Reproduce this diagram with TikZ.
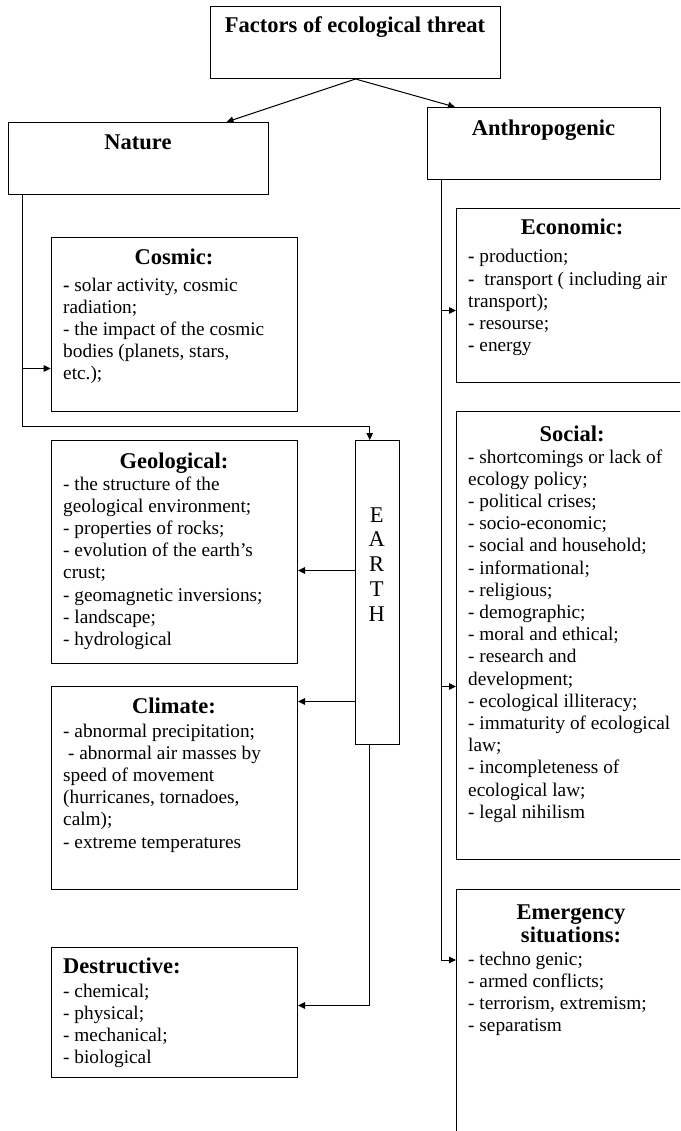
\documentclass[tikz,border=0pt]{standalone}
\usepackage{fontspec}
\setmainfont{Liberation Serif}
\usetikzlibrary{arrows.meta}
% top-aligned line stacks: the baseline is that of the first line
\newcommand{\leftstack}[1]{\begin{tabular}[t]{@{}l@{}}#1\end{tabular}}
\newcommand{\midstack}[1]{\begin{tabular}[t]{@{}c@{}}#1\end{tabular}}
\begin{document}
\begin{tikzpicture}[x=1pt,y=-1pt,
  box/.style={draw=black, line width=1pt, rectangle, inner sep=0pt, anchor=north west},
  ttl/.style={font=\fontsize{22.5}{23.5}\selectfont\bfseries, inner sep=0pt, anchor=base},
  body/.style={font=\fontsize{19.3}{22.2}\selectfont, inner sep=0pt, anchor=base west},
  vert/.style={font=\fontsize{22.5}{24.75}\selectfont, inner sep=0pt, anchor=base},
  arr/.style={line width=1pt, -{Triangle[length=7pt,width=6.5pt]}}
]
\useasboundingbox (0,0) rectangle (680,1131);
\clip (0,0) rectangle (680,1131);

% top level
\node[box, minimum width=290pt, minimum height=72pt] (top) at (210,6) {};
\node[ttl] (toptxt) at (355,33) {Factors of ecological threat};

\node[box, minimum width=260pt, minimum height=72pt] (nature) at (8,122) {};
\node[ttl] (naturetxt) at (138,150) {Nature};

\node[box, minimum width=233pt, minimum height=72pt] (anth) at (427,107) {};
\node[ttl] (anthtxt) at (543.5,136) {Anthropogenic};

\draw[arr] (top.south) -- ([xshift=88pt]nature.north);
\draw[arr] (top.south) -- ([xshift=-89pt]anth.north);

% natural factors
\node[box, minimum width=246.3pt, minimum height=174pt] (cosmic) at (50.7,237) {};
\node[ttl] (cosmictl) at (174,265) {Cosmic:};
\node[body] (cosmicbd) at (63,291) {\leftstack{\textbf{-} solar activity, cosmic\\radiation;\\- the impact of the cosmic\\bodies (planets, stars,\\etc.);}};

\node[box, minimum width=44pt, minimum height=304pt] (earth) at (354.7,440) {};
\node[vert] (earthtxt) at (376.7,522) {\midstack{E\\A\\R\\T\\H}};

\node[box, minimum width=246.3pt, minimum height=223pt] (geo) at (50.7,440) {};
\node[ttl] (geotl) at (174,468) {Geological:};
\node[body] (geobd) at (63,490) {\leftstack{- the structure of the\\geological environment;\\- properties of rocks;\\- evolution of the earth's\\crust;\\- geomagnetic inversions;\\- landscape;\\- hydrological}};

\node[box, minimum width=246.3pt, minimum height=203pt] (clim) at (50.7,686) {};
\node[ttl] (climtl) at (174,713) {Climate:};
\node[body] (climbd) at (63,737) {\leftstack{- abnormal precipitation;\\\ - abnormal air masses by\\speed of movement\\(hurricanes, tornadoes,\\calm);\\- extreme temperatures}};

\node[box, minimum width=246.3pt, minimum height=130pt] (destr) at (50.7,947) {};
\node[ttl, anchor=base west] (destrtl) at (63,973) {Destructive:};
\node[body] (destrbd) at (63,997) {\leftstack{- chemical;\\- physical;\\- mechanical;\\- biological}};

\coordinate (nat) at ([xshift=14pt]nature.south west);
\coordinate (cosin) at ([yshift=-44pt]cosmic.west);
\coordinate (geoin) at ([yshift=-18.5pt]geo.east);
\coordinate (climin) at ([yshift=86.5pt]clim.east);
\coordinate (desin) at ([yshift=7pt]destr.east);

\draw[arr] (nat) -- ++(0,231) -| ([xshift=-7.5pt]earth.north);
\draw[arr] (nat |- cosin) -- (cosin);
\draw[arr] (earth.west |- geoin) -- (geoin);
\draw[arr] (earth.west |- climin) -- (climin);
\draw[arr] ([xshift=-7.5pt]earth.south) |- (desin);

% anthropogenic factors
\node[box, minimum width=260pt, minimum height=174pt] (econ) at (456,208) {};
\node[ttl] (econtl) at (572,235) {Economic:};
\node[body] (econbd) at (468,263) {\leftstack{\textbf{-} production;\\\textbf{-}\ \ transport ( including air\\transport);\\\textbf{-} resourse;\\\textbf{-} energy}};

\node[box, minimum width=260pt, minimum height=448pt] (soc) at (456,411) {};
\node[ttl] (soctl) at (572,441) {Social:};
\node[body] (socbd) at (468,463) {\leftstack{- shortcomings or lack of\\ecology policy;\\- political crises;\\- socio-economic;\\- social and household;\\- informational;\\- religious;\\- demographic;\\- moral and ethical;\\- research and\\development;\\- ecological illiteracy;\\- immaturity of ecological\\law;\\- incompleteness of\\ecological law;\\- legal nihilism}};

\node[box, minimum width=260pt, minimum height=260pt] (emer) at (456,889) {};
\node[ttl] (emertl) at (571,919) {\midstack{Emergency\\situations:}};
\node[body] (emerbd) at (468,965) {\leftstack{- techno genic;\\- armed conflicts;\\- terrorism, extremism;\\- separatism}};

\coordinate (ant) at ([xshift=14pt]anth.south west);
\coordinate (ecin) at ([yshift=-15pt]econ.west);
\coordinate (socin) at ([yshift=-51pt]soc.west);
\coordinate (emin) at ([yshift=-71pt]emer.north west);

\draw[arr] (ant) |- (emin);
\draw[arr] (ant |- ecin) -- (ecin);
\draw[arr] (ant |- socin) -- (socin);
\end{tikzpicture}
\end{document}
